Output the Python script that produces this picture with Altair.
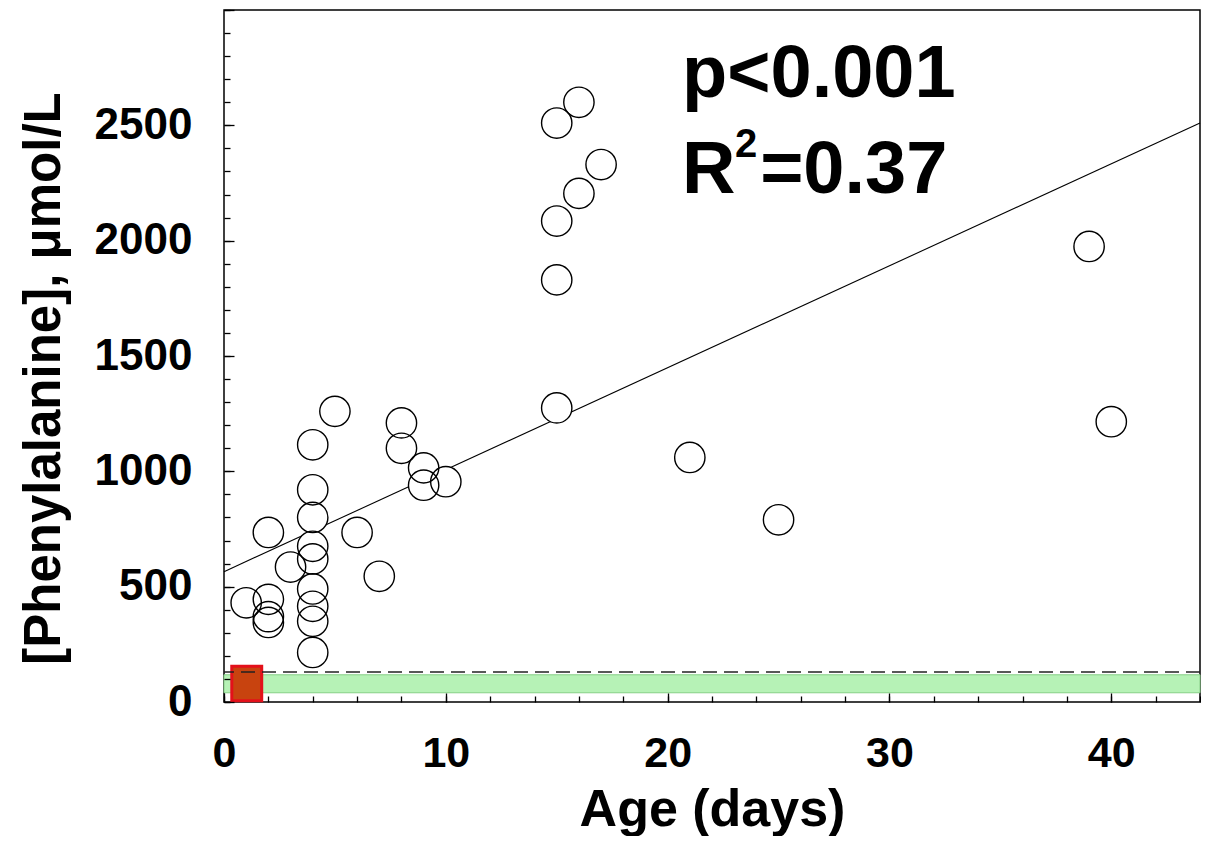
import altair as alt
import pandas as pd

# ---- data ----
age = [1, 2, 2, 2, 2, 3, 4, 4, 4, 4, 4, 4, 4, 4, 4, 5, 6, 7, 8, 8, 9, 9, 10,
       15, 15, 15, 15, 16, 16, 17, 21, 25, 39, 40]
phe = [430, 735, 445, 370, 345, 585, 1115, 920, 800, 675, 620, 490, 415, 350, 215,
       1260, 735, 545, 1210, 1100, 1015, 940, 955,
       2510, 2085, 1830, 1275, 2600, 2205, 2330, 1060, 790, 1975, 1215]

fit_age = [0, 44]
fit_phe = [565, 2510]

normal_from = [0]
normal_to = [44]
normal_low = [40]
normal_high = [118]
cutoff = [130]

newborn_from = [0.35]
newborn_to = [1.7]
newborn_low = [5]
newborn_high = [155]

x_major = [0, 10, 20, 30, 40]
x_minor = list(range(0, 45, 2))
y_labels = [0, 500, 1000, 1500, 2000, 2500]
y_major = [0, 500, 1000, 1500, 2000, 2500, 3000]
y_minor = list(range(0, 3001, 100))

big_text = ["p<0.001", "R", "=0.37"]
big_x = [20.65, 20.65, 24.17]
big_y = [2623, 2207, 2207]
small_text = ["2"]
small_x = [23.04]
small_y = [2363]

# ---- tables ----
pts = pd.DataFrame({"age": age, "phe": phe})
fit = pd.DataFrame({"age": fit_age, "phe": fit_phe})
band_df = pd.DataFrame({"a": normal_from, "b": normal_to, "lo": normal_low, "hi": normal_high})
cut_df = pd.DataFrame({"c": cutoff})
sq_df = pd.DataFrame({"a": newborn_from, "b": newborn_to, "lo": newborn_low, "hi": newborn_high})
big_df = pd.DataFrame({"t": big_text, "x": big_x, "y": big_y})
small_df = pd.DataFrame({"t": small_text, "x": small_x, "y": small_y})

FONT = "Liberation Sans"
XS = alt.Scale(domain=[0, 44], nice=False, zero=False)
YS = alt.Scale(domain=[0, 3000], nice=False, zero=False)

x_label_axis = alt.Axis(orient="bottom", values=x_major, title="Age (days)", ticks=False, tickSize=0,
                        domain=False, grid=False, labelFont=FONT, labelFontSize=43,
                        labelFontWeight="bold", labelColor="black", labelPadding=30,
                        labelFlush=False, format="d", titleFont=FONT, titleFontSize=52,
                        titleFontWeight="bold", titleColor="black", titleY=123,
                        titleBaseline="alphabetic")
y_label_axis = alt.Axis(orient="left", values=y_labels, title="[Phenylalanine], μmol/L", ticks=False,
                        tickSize=0, domain=False, grid=False, labelFont=FONT, labelFontSize=44,
                        labelFontWeight="bold", labelColor="black", labelPadding=32,
                        labelFlush=False, format="d", titleFont=FONT, titleFontSize=51,
                        titleFontWeight="bold", titleColor="black", titleAngle=-90, titleX=-165,
                        titleY=368, titleAlign="center", titleBaseline="alphabetic")

def tick_axis(orient, vals, size):
    return alt.Axis(orient=orient, values=vals, title=None, labels=False, domain=False, grid=False,
                    ticks=True, tickSize=size, offset=-size, tickColor="black", tickWidth=1.3,
                    zindex=1)

band = alt.Chart(band_df).mark_rect(fill="#b6f2b6", stroke="#86cf86", strokeWidth=1).encode(
    x=alt.X("a:Q", scale=XS, axis=x_label_axis),
    x2="b:Q",
    y=alt.Y("lo:Q", scale=YS, axis=y_label_axis),
    y2="hi:Q",
)

square = alt.Chart(sq_df).mark_rect(fill="#c8430f", stroke="#e3101a", strokeWidth=3).encode(
    x=alt.X("a:Q", scale=XS, axis=tick_axis("bottom", x_major, 9)),
    x2="b:Q",
    y=alt.Y("lo:Q", scale=YS, axis=tick_axis("left", y_major, 10)),
    y2="hi:Q",
)

dashed = alt.Chart(cut_df).mark_rule(color="#222222", strokeWidth=1.6, strokeDash=[14, 7]).encode(
    y=alt.Y("c:Q", scale=YS, axis=None),
)

line = alt.Chart(fit).mark_line(color="black", strokeWidth=1.1).encode(
    x=alt.X("age:Q", scale=XS, axis=tick_axis("bottom", x_minor, 6)),
    y=alt.Y("phe:Q", scale=YS, axis=tick_axis("left", y_minor, 6)),
)

fill = alt.Chart(pts).mark_circle(color="white", opacity=1, size=920).encode(
    x=alt.X("age:Q", scale=XS, axis=None),
    y=alt.Y("phe:Q", scale=YS, axis=None),
)

ring = alt.Chart(pts).mark_point(shape="circle", filled=False, color="black", strokeWidth=1.4,
                                 size=920, opacity=1).encode(
    x=alt.X("age:Q", scale=XS, axis=None),
    y=alt.Y("phe:Q", scale=YS, axis=None),
)

big = alt.Chart(big_df).mark_text(font=FONT, fontSize=74, fontWeight="bold", color="black",
                                  align="left", baseline="alphabetic").encode(
    x=alt.X("x:Q", scale=XS, axis=None),
    y=alt.Y("y:Q", scale=YS, axis=None),
    text="t:N",
)

small = alt.Chart(small_df).mark_text(font=FONT, fontSize=40, fontWeight="bold", color="black",
                                      align="left", baseline="alphabetic").encode(
    x=alt.X("x:Q", scale=XS, axis=None),
    y=alt.Y("y:Q", scale=YS, axis=None),
    text="t:N",
)

chart = alt.layer(band, square, dashed, line, fill, ring, big, small).resolve_axis(
    x="independent", y="independent"
).properties(
    width=976, height=692,
    padding={"left": 216, "top": 2, "right": 1, "bottom": 134},
    autosize=alt.AutoSizeParams(type="none"),
    background="white",
).configure_view(stroke="black", strokeWidth=1.5)

chart.save("out.html", embed_options={"renderer": "svg", "actions": False})
